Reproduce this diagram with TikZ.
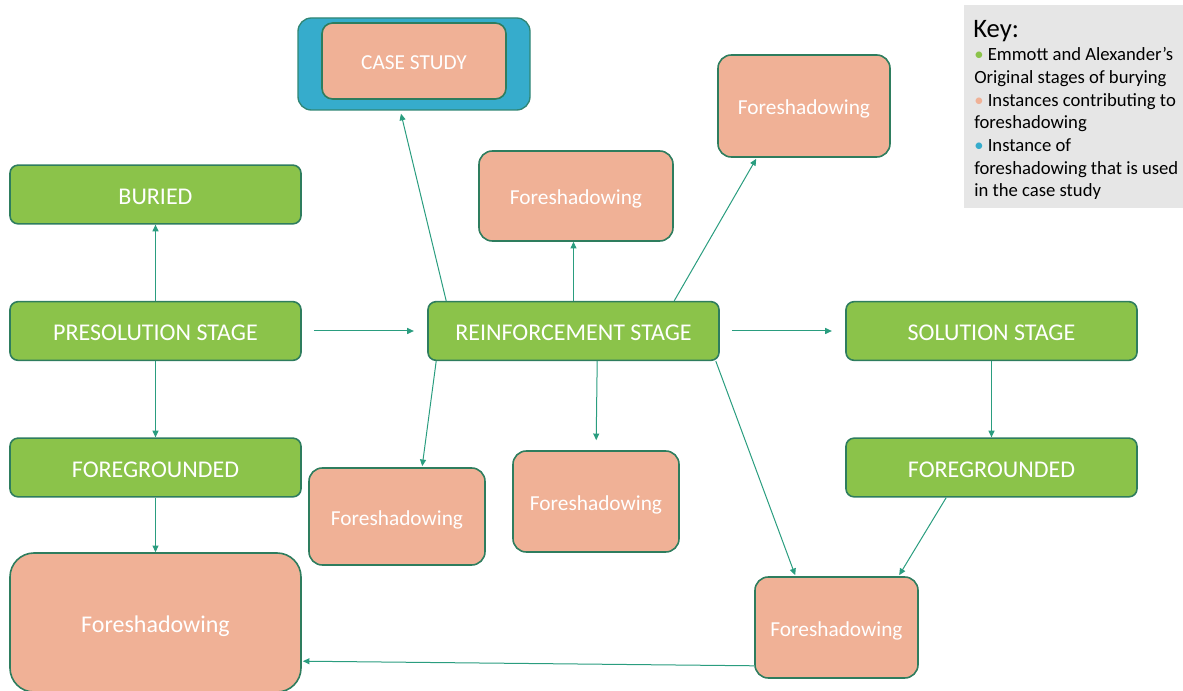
\documentclass[tikz,border=0pt]{standalone}
\usepackage{fontspec}
\setmainfont{Carlito}
\usetikzlibrary{calc,arrows.meta}
\definecolor{gfill}{HTML}{8BC34A}
\definecolor{bord}{HTML}{2E7D5E}
\definecolor{sal}{HTML}{F0B196}
\definecolor{blu}{HTML}{36ACCC}
\definecolor{arr}{HTML}{2A9D7F}
\definecolor{keybg}{HTML}{E6E6E6}
\tikzset{
  gbox/.style={draw=bord, line width=1.2pt, fill=gfill, rounded corners=6pt, text=white, font=\fontsize{18}{21}\selectfont, minimum width=218.25pt, minimum height=44pt, inner sep=0pt, text height=15pt, text depth=0pt},
  sbox/.style={draw=bord, line width=1.2pt, fill=sal, rounded corners=10pt, text=white, font=\fontsize{16}{19}\selectfont, inner sep=0pt, text height=13pt, text depth=0pt},
  link/.style={draw=arr, line width=0.75pt, -{Triangle[length=5pt,width=4.5pt]}},
}
\begin{document}
\begin{tikzpicture}[x=0.75pt,y=-0.75pt]
\useasboundingbox (0,0) rectangle (1183,691);
% case study
\node[draw=bord!80!blu, line width=1pt, fill=blu, rounded corners=10pt, minimum width=174pt, minimum height=69pt] (caseo) at (414,64) {};
\node[sbox, rounded corners=8pt, minimum width=138pt, minimum height=57pt] (case) at (414,61) {CASE STUDY};
% green boxes
\node[gbox] (buried) at (155.5,194.5) {BURIED};
\node[gbox] (pre) at (155.5,331) {PRESOLUTION STAGE};
\node[gbox] (reinf) at (573.5,331) {REINFORCEMENT STAGE};
\node[gbox] (sol) at (991.5,331) {SOLUTION STAGE};
\node[gbox] (fgL) at (155.5,467.5) {FOREGROUNDED};
\node[gbox] (fgR) at (991.5,467.5) {FOREGROUNDED};
% salmon boxes
\node[sbox, minimum width=129pt, minimum height=76.5pt] (fsTR) at (804,106) {Foreshadowing};
\node[sbox, minimum width=145.5pt, minimum height=67.5pt] (fsMid) at (576,196) {Foreshadowing};
\node[sbox, minimum width=132pt, minimum height=72.75pt] (fsA) at (397,516.5) {Foreshadowing};
\node[sbox, minimum width=124.5pt, minimum height=75.75pt] (fsB) at (596,501.5) {Foreshadowing};
\node[sbox, minimum width=122.25pt, minimum height=75.75pt] (fsBR) at (836.5,627.5) {Foreshadowing};
\node[sbox, rounded corners=18pt, font=\fontsize{18}{21}\selectfont, text height=15pt, minimum width=218.25pt, minimum height=104.25pt] (fsBig) at (155.5,622.5) {Foreshadowing};
% key
\node[fill=keybg, minimum width=164.25pt, minimum height=152.25pt, inner sep=0pt] (key) at (1073.5,106.5) {};
\node[anchor=west, inner sep=0pt, font=\fontsize{20}{20}\selectfont] (keytitle) at (973,31) {Key:};
\node[anchor=north west, inner sep=0pt, align=left, font=\fontsize{14}{17}\selectfont] (keytext) at (974,47.5)
{{\color{gfill}\textbullet} Emmott and Alexander’s\\
Original stages of burying\\
{\color{sal}\textbullet} Instances contributing to\\
foreshadowing\\
{\color{blu}\textbullet} Instance of\\
foreshadowing that is used\\
in the case study};
% connectors
\draw[link] (pre.north) -- (buried.south);
\draw[link] (pre.south) -- (fgL.north);
\draw[link] (fgL.south) -- (fsBig.north);
\draw[link, shorten <=9pt, shorten >=10pt] (pre.east) -- (reinf.west);
\draw[link, shorten <=9pt, shorten >=10pt] (reinf.east) -- (sol.west);
\draw[link] (sol.south) -- (fgR.north);
\draw[link] ($(reinf.north west)+(19,0)$) -- ($(caseo.south)+(-13,3)$);
\draw[link] (reinf.north) -- (reinf.north |- fsMid.south);
\draw[link] ($(reinf.north west)+(247,0)$) -- ($(fsTR.south west)+(39,1)$);
\draw[link] ($(reinf.south west)+(9,0)$) -- ($(fsA.north west)+(114,-1)$);
\draw[link] ($(reinf.south west)+(170,0)$) -- ($(fsB.north west)+(84,-10)$);
\draw[link] ($(reinf.south east)+(-4,0)$) -- ($(fsBR.north west)+(41,-1)$);
\draw[link] ($(fgR.south west)+(101,0)$) -- ($(fsBR.north west)+(145,-1)$);
\draw[link] ($(fsBR.south west)+(0,-13)$) -- ($(fsBig.north east)+(1,109)$);
\end{tikzpicture}
\end{document}
